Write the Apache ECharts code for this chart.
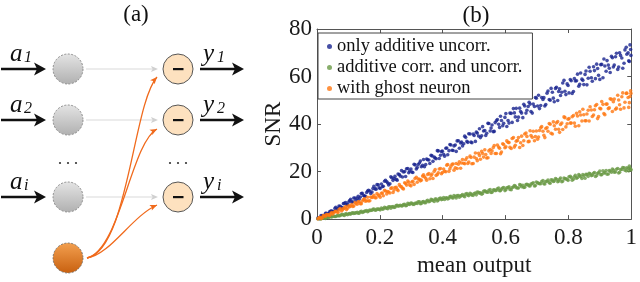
<!DOCTYPE html>
<html><head><meta charset="utf-8">
<script src="https://cdn.jsdelivr.net/npm/echarts@6/dist/echarts.min.js"></script>
<style>html,body{margin:0;padding:0;background:#fff}#c{width:640px;height:282px}</style>
</head><body><div id="c"></div>
<script>
const seriesNames = ['only additive uncorr.', 'additive corr. and uncorr.', 'with ghost neuron'];
const xTicks = [0, 0.2, 0.4, 0.6, 0.8, 1];
const yTicks = [0, 20, 40, 60, 80];
const meanOutput = [
0.003,0.010,0.017,0.023,0.030,0.037,0.044,0.050,0.057,0.064,
0.070,0.077,0.084,0.091,0.097,0.104,0.111,0.117,0.124,0.131,
0.138,0.144,0.151,0.158,0.164,0.171,0.178,0.185,0.191,0.198,
0.205,0.211,0.218,0.225,0.232,0.238,0.245,0.252,0.258,0.265,
0.272,0.279,0.285,0.292,0.299,0.305,0.312,0.319,0.326,0.332,
0.339,0.346,0.352,0.359,0.366,0.373,0.379,0.386,0.393,0.399,
0.406,0.413,0.420,0.426,0.433,0.440,0.446,0.453,0.460,0.467,
0.473,0.480,0.487,0.493,0.500,0.507,0.514,0.520,0.527,0.534,
0.540,0.547,0.554,0.561,0.567,0.574,0.581,0.587,0.594,0.601,
0.608,0.614,0.621,0.628,0.634,0.641,0.648,0.655,0.661,0.668,
0.675,0.681,0.688,0.695,0.702,0.708,0.715,0.722,0.728,0.735,
0.742,0.749,0.755,0.762,0.769,0.775,0.782,0.789,0.796,0.802,
0.809,0.816,0.822,0.829,0.836,0.843,0.849,0.856,0.863,0.869,
0.876,0.883,0.890,0.896,0.903,0.910,0.916,0.923,0.930,0.937,
0.943,0.950,0.957,0.963,0.970,0.977,0.984,0.990,0.994,0.998];
const meanOutputB = [
0.007,0.013,0.020,0.027,0.034,0.040,0.047,0.054,0.060,0.067,
0.074,0.081,0.087,0.094,0.101,0.107,0.114,0.121,0.128,0.134,
0.141,0.148,0.154,0.161,0.168,0.175,0.181,0.188,0.195,0.201,
0.208,0.215,0.222,0.228,0.235,0.242,0.248,0.255,0.262,0.269,
0.275,0.282,0.289,0.295,0.302,0.309,0.316,0.322,0.329,0.336,
0.342,0.349,0.356,0.363,0.369,0.376,0.383,0.389,0.396,0.403,
0.410,0.416,0.423,0.430,0.436,0.443,0.450,0.457,0.463,0.470,
0.477,0.483,0.490,0.497,0.504,0.510,0.517,0.524,0.530,0.537,
0.544,0.551,0.557,0.564,0.571,0.578,0.584,0.591,0.598,0.604,
0.611,0.618,0.625,0.631,0.638,0.645,0.651,0.658,0.665,0.672,
0.678,0.685,0.692,0.698,0.705,0.712,0.719,0.725,0.732,0.739,
0.745,0.752,0.759,0.766,0.772,0.779,0.786,0.792,0.799,0.806,
0.812,0.819,0.826,0.833,0.839,0.846,0.853,0.859,0.866,0.873,
0.880,0.886,0.893,0.900,0.906,0.913,0.920,0.927,0.933,0.940,
0.946,0.953,0.960,0.966,0.973,0.980,0.986,0.992,0.996,0.999];
const snrOnlyAdditive = [
0.4,0.5,1.5,1.3,2.4,2.3,3.4,3.2,4.5,4.1,
5.5,5.0,6.5,7.0,6.1,7.8,7.1,8.9,7.9,9.6,
9.3,10.9,9.7,11.2,12.1,10.8,12.9,12.7,14.5,13.2,
14.8,13.8,16.3,15.2,14.9,17.4,17.1,16.7,19.0,18.1,
17.7,20.0,21.2,19.5,21.1,19.6,22.8,21.7,23.6,22.0,
25.1,23.0,25.0,23.4,26.6,26.1,25.4,28.7,26.9,28.6,
26.5,29.9,28.8,31.2,28.9,31.2,32.9,29.8,32.4,31.7,
34.4,32.3,35.8,32.1,35.2,36.6,35.0,34.3,38.9,37.3,
36.1,40.2,38.3,36.8,40.6,41.9,38.6,41.5,40.3,44.4,
41.5,44.6,40.7,44.7,46.6,42.9,45.3,42.7,47.6,45.8,
49.2,45.3,48.4,51.2,47.6,46.5,51.2,51.1,48.2,53.9,
50.0,53.4,49.4,55.5,53.7,52.0,57.3,53.8,56.9,53.1,
58.2,53.7,58.1,61.0,56.7,58.9,56.6,62.3,59.3,62.2,
58.0,62.5,65.2,60.5,65.0,59.5,64.4,66.7,63.5,68.5,
64.0,68.3,63.0,70.0,67.8,65.6,72.3,70.0,66.3,71.4];
const snrOnlyAdditiveB = [
0.2,1.5,1.2,2.4,1.7,3.1,3.4,3.2,5.0,4.4,
5.4,4.8,6.7,6.1,7.2,8.3,7.3,8.9,8.8,8.4,
10.8,9.9,9.6,11.8,11.8,11.4,13.8,12.6,14.4,12.9,
13.6,15.9,15.7,14.4,17.8,16.3,18.0,16.4,18.7,20.4,
19.8,17.9,21.3,20.2,19.8,23.1,21.1,23.0,24.4,22.6,
22.0,25.3,24.9,26.9,24.3,25.7,28.8,25.5,28.4,27.3,
29.8,27.1,31.4,29.0,30.8,28.5,33.0,32.0,30.8,34.9,
32.7,35.9,32.4,35.8,32.7,36.2,38.0,35.1,37.1,35.2,
40.3,37.1,39.6,36.9,41.4,39.9,43.3,39.3,42.8,39.0,
40.4,44.5,46.5,43.0,41.5,46.7,44.6,48.3,44.6,47.4,
48.4,44.6,47.4,50.9,52.1,47.8,50.3,47.6,53.0,50.3,
55.0,50.9,55.0,49.9,54.8,53.4,58.4,52.4,56.2,58.7,
52.9,59.2,58.2,55.9,61.5,58.4,60.9,56.5,63.9,59.5,
64.1,59.1,63.4,58.8,65.1,67.4,62.2,64.8,61.7,67.9,
64.8,69.8,64.0,68.9,63.5,71.2,69.4,66.6,73.3,68.9];
const snrCorrUncorr = [
0.1,0.1,0.5,0.4,0.8,0.6,1.0,1.3,1.1,1.4,
1.3,1.8,1.7,2.2,1.8,2.3,2.5,2.4,2.7,2.5,
3.1,2.8,3.3,3.6,3.4,3.6,4.1,3.7,4.2,4.1,
4.6,4.3,4.7,4.4,5.2,5.2,4.9,5.7,5.4,5.8,
5.6,6.2,5.7,6.3,6.8,6.2,6.7,6.6,7.3,6.6,
7.4,6.9,7.9,7.5,8.1,7.4,8.4,8.0,8.9,8.4,
8.3,9.0,8.8,9.6,8.9,9.5,9.9,9.2,9.9,9.7,
10.5,10.1,10.9,10.1,10.8,10.2,11.3,11.1,10.8,11.9,
11.3,12.1,11.2,12.2,12.0,12.8,11.9,12.6,13.3,12.4,
13.3,12.5,13.3,14.1,13.2,13.1,14.3,14.2,13.4,14.6,
14.0,14.7,15.3,14.1,15.3,14.9,15.8,14.9,15.8,16.4,
15.1,16.4,16.0,16.8,16.0,17.3,16.0,17.0,16.7,17.8,
17.5,16.8,18.4,17.5,18.3,17.1,18.2,18.9,18.0,19.1,
18.5,19.6,18.3,19.5,18.7,20.3,19.6,18.9,20.4,19.7,
20.6,19.8,21.3,19.7,20.9,21.6,20.3,21.4,22.3,21.0];
const snrCorrUncorrB = [
0.3,0.1,0.5,0.3,0.8,1.1,0.9,1.2,1.1,1.6,
1.5,2.0,1.5,2.1,2.2,2.1,2.7,2.5,2.9,2.5,
3.3,3.0,3.4,3.1,3.8,3.7,4.2,3.8,4.2,3.9,
4.2,5.0,4.6,5.2,4.6,5.3,5.0,5.8,5.6,5.5,
6.1,5.6,6.6,6.2,6.7,6.2,6.8,7.3,6.5,7.3,
6.9,7.6,7.3,8.3,7.8,8.4,7.6,8.6,8.2,9.1,
8.9,8.5,9.5,9.0,9.9,8.9,9.9,9.7,10.3,9.4,
10.8,9.9,10.5,10.0,11.0,11.4,10.9,10.5,11.7,11.6,
11.3,12.4,11.3,12.3,12.1,13.1,12.0,13.1,12.0,13.2,
13.6,12.4,13.5,13.9,13.1,14.5,13.6,13.3,14.5,14.4,
13.9,15.0,13.9,15.6,15.1,14.9,16.2,14.8,15.9,15.3,
16.5,15.8,17.1,15.7,16.7,15.7,17.3,17.0,16.3,18.0,
16.4,17.8,17.2,18.7,17.8,18.7,17.2,18.7,19.3,18.3,
19.3,17.9,19.3,20.2,18.7,19.3,20.4,19.0,20.2,21.1,
19.7,21.0,19.4,20.9,21.7,20.6,21.6,20.3,21.5,20.7];
const snrGhost = [
0.1,0.7,0.6,1.4,1.9,1.8,2.3,2.1,3.2,3.0,
4.0,3.4,4.4,5.3,4.6,5.2,6.1,5.5,6.5,7.3,
6.5,7.6,8.5,7.7,7.6,9.3,9.3,9.0,10.7,9.9,
10.9,9.8,11.8,11.6,11.0,13.2,12.2,13.4,12.0,13.8,
13.0,15.3,14.3,15.5,14.0,15.9,17.1,15.5,16.8,16.4,
18.6,17.2,18.8,17.0,19.0,20.1,18.4,19.5,21.3,19.6,
20.1,22.7,20.1,22.2,23.2,21.6,21.3,24.1,23.6,23.5,
25.0,23.4,26.5,23.3,26.1,25.5,27.7,25.2,27.6,29.2,
25.7,28.7,27.6,30.1,27.6,31.2,29.8,28.2,31.4,30.4,
32.3,30.2,33.9,30.3,32.8,34.3,32.1,31.0,35.8,34.8,
32.7,35.2,37.0,34.7,33.6,37.3,38.9,35.3,38.1,37.0,
39.9,35.8,39.3,40.5,37.8,39.8,37.7,42.7,40.1,42.3,
40.4,43.6,39.1,43.4,45.2,41.3,43.9,41.4,45.8,47.3,
43.2,46.0,48.2,43.2,46.4,48.3,43.9,48.4,46.8,50.4,
49.4,46.2,52.1,48.1,51.5,46.8,52.9,51.2,49.0,54.0];
const snrGhostB = [
0.6,0.2,1.5,1.2,1.8,1.5,2.8,2.7,3.3,2.8,
4.4,3.8,4.7,4.0,5.6,5.5,5.3,7.0,6.3,7.3,
6.5,8.2,7.5,9.2,7.7,9.1,10.0,9.0,10.1,9.2,
11.0,12.1,10.6,11.4,12.9,11.2,13.3,12.5,14.5,13.6,
12.7,15.0,16.0,14.3,15.6,14.6,17.6,16.9,16.1,18.1,
17.8,16.4,19.2,18.3,17.1,20.9,18.8,21.1,19.1,21.1,
19.9,23.0,21.2,23.1,20.6,23.4,23.1,21.4,25.1,23.3,
25.8,24.0,25.9,23.4,27.8,24.6,26.8,28.5,26.1,27.2,
25.8,29.3,28.7,31.0,27.6,30.3,27.5,31.7,30.0,32.9,
32.2,29.7,34.3,31.1,33.1,30.1,34.9,33.0,36.2,32.6,
37.2,34.4,33.0,37.1,34.5,38.4,37.0,34.3,38.5,40.2,
36.1,40.9,37.8,41.0,36.5,40.4,43.0,38.8,42.0,40.4,
43.1,40.4,44.5,39.3,43.8,46.2,41.4,44.2,41.3,45.9,
43.8,47.7,42.3,46.6,49.5,44.4,48.4,46.5,50.6,45.3,
50.5,46.7,50.1,46.2,53.1,49.2,53.0,47.0,51.6,52.9];
const seriesColors = ['#18238f', '#6a9a46', '#ff7710'];

const SERIF = '"Liberation Serif", "Times New Roman", serif';
function pairs(ysA, ysB) {
  return meanOutput.map((x, i) => [x, ysA[i]]).concat(meanOutputB.map((x, i) => [x, ysB[i]]));
}

// ---------- diagram (a) helpers ----------
const G = [];
function arrowHead(tx, ty, dx, dy, len, half, notch, color) {
  const L = Math.hypot(dx, dy); const ux = dx / L, uy = dy / L; const px = -uy, py = ux;
  const bx = tx - ux * len, by = ty - uy * len;
  const nx = tx - ux * (len - notch), ny = ty - uy * (len - notch);
  G.push({ type: 'polygon', shape: { points: [[tx, ty], [bx + px * half, by + py * half], [nx, ny], [bx - px * half, by - py * half]] }, style: { fill: color }, z: 10 });
}
function blackArrow(x1, x2, y) {
  G.push({ type: 'line', shape: { x1: x1, y1: y, x2: x2 - 6, y2: y }, style: { stroke: '#111', lineWidth: 2.4 }, z: 9 });
  arrowHead(x2, y, 1, 0, 12, 6.5, 3, '#111');
}
function label(ch, sub, x, y) {
  G.push({ type: 'text', style: { text: ch, x: x, y: y, font: 'italic 25px ' + SERIF, fill: '#111', align: 'left', verticalAlign: 'middle' }, z: 10 });
  G.push({ type: 'text', style: { text: sub, x: x + 14, y: y + 4, font: 'italic 16px ' + SERIF, fill: '#111', align: 'left', verticalAlign: 'middle' }, z: 10 });
}
const rows = [69, 120, 197];
const inLab = ['1', '2', 'i'];
rows.forEach((ry, i) => {
  blackArrow(1, 46, ry);
  label('a', inLab[i], 10, ry - 15);
  G.push({ type: 'circle', shape: { cx: 68, cy: ry, r: 15 }, style: { fill: { type: 'linear', x: 0, y: 0, x2: 0, y2: 1, colorStops: [{ offset: 0, color: '#e4e4e4' }, { offset: 1, color: '#b0b0b0' }] }, stroke: '#777', lineWidth: 0.8, lineDash: [2, 1.5] }, z: 8 });
  G.push({ type: 'line', shape: { x1: 86, y1: ry, x2: 152, y2: ry }, style: { stroke: '#d9d9d9', lineWidth: 1.2 }, z: 7 });
  arrowHead(158, ry, 1, 0, 7, 3, 1.5, '#d0d0d0');
  G.push({ type: 'circle', shape: { cx: 178, cy: ry, r: 15 }, style: { fill: '#fde1bf', stroke: '#555', lineWidth: 1 }, z: 8 });
  G.push({ type: 'rect', shape: { x: 173, y: ry - 1, width: 10.5, height: 2.2 }, style: { fill: '#111' }, z: 9 });
  blackArrow(200, 244, ry);
  label('y', inLab[i], 203, ry - 15);
});
[60, 68, 76, 170, 178, 186].forEach(x => G.push({ type: 'circle', shape: { cx: x, cy: 163, r: 1.1 }, style: { fill: '#333' }, z: 8 }));
G.push({ type: 'circle', shape: { cx: 68, cy: 258, r: 15 }, style: { fill: { type: 'linear', x: 0, y: 0, x2: 0, y2: 1, colorStops: [{ offset: 0, color: '#f3a050' }, { offset: 1, color: '#c8600f' }] }, stroke: '#666', lineWidth: 0.8, lineDash: [2, 1.5] }, z: 8 });
const curves = [
  { e: [157, 77], c1: [128, 250], c2: [133, 104] },
  { e: [157, 129], c1: [120, 250], c2: [131, 143] },
  { e: [157, 205], c1: [110, 255], c2: [132, 216] }
];
curves.forEach(c => {
  G.push({ type: 'bezierCurve', shape: { x1: 87, y1: 258, x2: c.e[0], y2: c.e[1], cpx1: c.c1[0], cpy1: c.c1[1], cpx2: c.c2[0], cpy2: c.c2[1] }, style: { stroke: '#f06a1c', lineWidth: 1.3, fill: null }, z: 9 });
  arrowHead(c.e[0], c.e[1], c.e[0] - c.c2[0], c.e[1] - c.c2[1], 7, 3, 1.5, '#f06a1c');
});
G.push({ type: 'text', style: { text: '(a)', x: 136, y: 15, font: '23px ' + SERIF, fill: '#111', align: 'center', verticalAlign: 'middle' }, z: 10 });
G.push({ type: 'text', style: { text: '(b)', x: 476, y: 16, font: '23px ' + SERIF, fill: '#111', align: 'center', verticalAlign: 'middle' }, z: 10 });

const axisCol = '#555';
const labelStyle = { fontFamily: SERIF, fontSize: 23, color: '#1a1a1a' };
function boxAxis(extra) {
  return Object.assign({
    type: 'value', splitLine: { show: false },
    axisLine: { show: true, onZero: false, lineStyle: { color: axisCol, width: 1 } },
    axisTick: { show: true, inside: true, length: 4, lineStyle: { color: axisCol } }
  }, extra);
}
const option = {
  animation: false,
  graphic: G,
  grid: { left: 317, right: 5, top: 29, bottom: 53, containLabel: false },
  xAxis: [
    boxAxis({ min: xTicks[0], max: xTicks[xTicks.length - 1], interval: 0.2, position: 'bottom',
      axisLabel: Object.assign({ margin: 7 }, labelStyle),
      name: 'mean output', nameLocation: 'middle', nameGap: 28, nameTextStyle: labelStyle }),
    boxAxis({ min: xTicks[0], max: xTicks[xTicks.length - 1], interval: 0.2, position: 'top', axisLabel: { show: false } })
  ],
  yAxis: [
    boxAxis({ min: yTicks[0], max: yTicks[yTicks.length - 1], interval: 20, position: 'left',
      axisLabel: Object.assign({ margin: 5 }, labelStyle),
      name: 'SNR', nameLocation: 'middle', nameGap: 32, nameTextStyle: labelStyle }),
    boxAxis({ min: yTicks[0], max: yTicks[yTicks.length - 1], interval: 20, position: 'right', axisLabel: { show: false } })
  ],
  legend: {
    data: seriesNames, orient: 'vertical', left: 318, top: 33,
    icon: 'circle', itemWidth: 5, itemHeight: 5, itemGap: 2,
    padding: [4, 10, 1, 9],
    backgroundColor: '#fff', borderColor: '#444', borderWidth: 1,
    textStyle: { fontFamily: SERIF, fontSize: 18.5, color: '#111', padding: [0, 0, 0, 0] }
  },
  series: [
    { name: seriesNames[0], type: 'scatter', data: pairs(snrOnlyAdditive, snrOnlyAdditiveB), symbolSize: 3.6, itemStyle: { color: seriesColors[0] } },
    { name: seriesNames[1], type: 'scatter', data: pairs(snrCorrUncorr, snrCorrUncorrB), symbolSize: 3.6, itemStyle: { color: seriesColors[1] } },
    { name: seriesNames[2], type: 'scatter', data: pairs(snrGhost, snrGhostB), symbolSize: 3.6, itemStyle: { color: seriesColors[2] } }
  ]
};
const chart = echarts.init(document.getElementById('c'), null, { renderer: 'canvas' });
chart.setOption(option);
</script></body></html>
